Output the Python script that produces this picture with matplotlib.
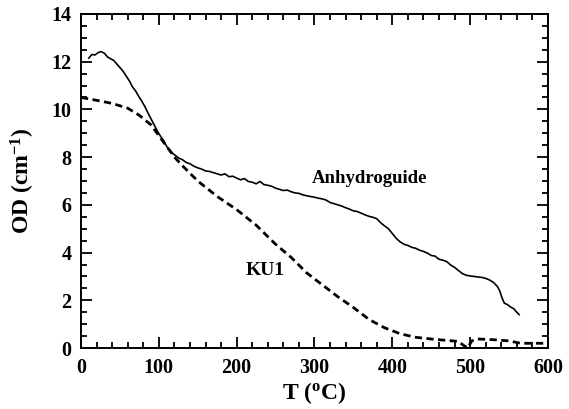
import matplotlib
matplotlib.use("Agg")
import matplotlib.pyplot as plt
from matplotlib.ticker import MultipleLocator

# Anhydroguide (solid)
anhy_T = [10, 14, 18, 22, 26, 30, 34, 38, 42, 46, 50, 54, 58, 62, 66, 70, 74, 78, 82, 86,
          90, 94, 98, 102, 106, 110, 114, 118, 122, 126, 130, 135, 140, 145, 150, 155, 160,
          165, 170, 175, 180, 185, 190, 195, 200, 205, 210, 215, 220, 225, 230, 235, 240,
          245, 250, 255, 260, 265, 270, 275, 280, 285, 290, 295, 300, 305, 310, 315, 320,
          325, 330, 335, 340, 345, 350, 355, 360, 365, 370, 375, 380, 385, 390, 395, 400,
          405, 410, 415, 420, 425, 430, 435, 440, 445, 450, 455, 460, 465, 470, 475, 480,
          485, 490, 495, 500, 505, 510, 515, 520, 525, 530, 535, 538, 541, 544, 548, 552,
          556, 560, 563]
anhy_OD = [12.15, 12.3, 12.28, 12.38, 12.42, 12.35, 12.2, 12.12, 12.05, 11.9, 11.75, 11.6,
           11.4, 11.2, 10.95, 10.78, 10.55, 10.35, 10.12, 9.85, 9.6, 9.35, 9.1, 8.88, 8.7,
           8.45, 8.3, 8.15, 8.05, 7.95, 7.9, 7.78, 7.72, 7.62, 7.55, 7.5, 7.42, 7.4, 7.35,
           7.3, 7.25, 7.3, 7.18, 7.2, 7.12, 7.05, 7.1, 6.98, 6.95, 6.88, 6.98, 6.85, 6.82,
           6.78, 6.7, 6.65, 6.6, 6.62, 6.55, 6.5, 6.48, 6.42, 6.38, 6.35, 6.32, 6.28, 6.25,
           6.2, 6.1, 6.05, 6.0, 5.95, 5.88, 5.82, 5.75, 5.72, 5.65, 5.58, 5.52, 5.48, 5.42,
           5.25, 5.12, 5.0, 4.8, 4.6, 4.45, 4.35, 4.3, 4.22, 4.18, 4.1, 4.05, 3.98, 3.88,
           3.85, 3.72, 3.68, 3.62, 3.48, 3.38, 3.25, 3.12, 3.05, 3.02, 3.0, 2.98, 2.96,
           2.92, 2.85, 2.75, 2.58, 2.4, 2.1, 1.88, 1.82, 1.72, 1.65, 1.5, 1.4]

# KU1 (dashed)
ku1_T = [0, 20, 40, 60, 75, 90, 100, 110, 120, 130, 150, 175, 200, 225, 250, 270, 290, 310,
         330, 350, 370, 390, 410, 430, 450, 470, 485, 492, 497, 502, 510, 530, 550, 565, 600]
ku1_OD = [10.5, 10.38, 10.25, 10.05, 9.75, 9.35, 8.9, 8.45, 8.0, 7.65, 7.0, 6.35, 5.8,
          5.15, 4.35, 3.8, 3.15, 2.65, 2.15, 1.7, 1.2, 0.85, 0.6, 0.45, 0.38, 0.32, 0.28,
          0.1, 0.0, 0.3, 0.38, 0.35, 0.3, 0.2, 0.2]

plt.rcParams["font.family"] = ["Liberation Serif", "DejaVu Serif"]
plt.rcParams["font.weight"] = "bold"
plt.rcParams["mathtext.fontset"] = "custom"
plt.rcParams["mathtext.rm"] = "Liberation Serif:bold"
plt.rcParams["mathtext.it"] = "Liberation Serif:bold"
plt.rcParams["mathtext.bf"] = "Liberation Serif:bold"

fig = plt.figure(figsize=(5.69, 4.09), dpi=100)
ax = fig.add_axes([0.1424, 0.149, 0.8206, 0.817])

ax.plot(anhy_T, anhy_OD, color="black", lw=1.2)
ax.plot(ku1_T, ku1_OD, color="black", lw=2.0, linestyle=(0, (2.6, 1.6)))

ax.set_xlim(0, 600)
ax.set_ylim(0, 14)
ax.xaxis.set_major_locator(MultipleLocator(100))
ax.xaxis.set_minor_locator(MultipleLocator(20))
ax.yaxis.set_major_locator(MultipleLocator(2))
ax.yaxis.set_minor_locator(MultipleLocator(0.5))
ax.tick_params(which="both", direction="in", top=True, right=True, width=1.3,
               labelsize=14.5, pad=7)
ax.tick_params(which="major", length=8)
ax.tick_params(which="minor", length=4.5)
for s in ax.spines.values():
    s.set_linewidth(1.4)

ax.set_xlabel(r"T ($\mathregular{^o}$C)", fontsize=17, fontweight="bold", labelpad=2)
ax.set_ylabel(r"OD (cm$\mathregular{^{-1}}$)", fontsize=17, fontweight="bold", labelpad=10)

ax.text(371, 7.1, "Anhydroguide", fontsize=13.5, fontweight="bold", ha="center", va="center")
ax.text(236, 3.27, "KU1", fontsize=14, fontweight="bold", ha="center", va="center")

fig.savefig("out.png", dpi=100)
